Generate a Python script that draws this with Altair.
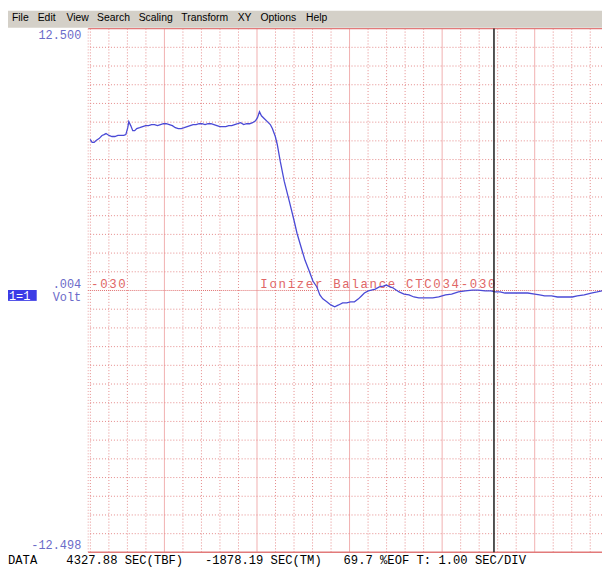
import altair as alt
import pandas as pd

# ---- data ----
time_s = [-0.802, -0.781, -0.759, -0.738, -0.706, -0.674, -0.652, -0.631, -0.599, -0.567,
          -0.535, -0.503, -0.471, -0.439, -0.417, -0.396, -0.385, -0.364, -0.342, -0.321,
          -0.299, -0.267, -0.235, -0.203, -0.171, -0.139, -0.107, -0.075, -0.043, -0.011,
          0.021, 0.053, 0.086, 0.118, 0.150, 0.182, 0.214, 0.246, 0.278, 0.310,
          0.342, 0.374, 0.406, 0.439, 0.471, 0.503, 0.535, 0.567, 0.599, 0.631,
          0.663, 0.695, 0.727, 0.759, 0.791, 0.824, 0.856, 0.888, 0.920, 0.952,
          0.984, 1.005, 1.027, 1.048, 1.080, 1.112, 1.144, 1.166, 1.198, 1.219,
          1.251, 1.294, 1.348, 1.401, 1.433, 1.487, 1.519, 1.561, 1.604, 1.647,
          1.679, 1.711, 1.754, 1.797, 1.840, 1.882, 1.925, 1.968, 2.011, 2.053,
          2.096, 2.128, 2.160, 2.203, 2.235, 2.278, 2.321, 2.364, 2.396, 2.439,
          2.471, 2.503, 2.535, 2.588, 2.642, 2.695, 2.749, 2.824, 2.898, 2.963,
          3.037, 3.102, 3.176, 3.251, 3.326, 3.390, 3.465, 3.529, 3.572, 3.626,
          3.679, 3.754, 3.840, 3.925, 4.000, 4.053, 4.107, 4.182, 4.246, 4.289,
          4.342, 4.406, 4.460, 4.535, 4.610, 4.674, 4.727]
volts = [7.21, 7.07, 7.07, 7.16, 7.25, 7.40, 7.44, 7.49, 7.40, 7.35,
         7.35, 7.40, 7.40, 7.40, 7.44, 7.77, 8.06, 7.87, 7.63, 7.63,
         7.73, 7.77, 7.82, 7.87, 7.87, 7.92, 7.92, 7.87, 7.92, 7.96,
         7.96, 7.92, 7.87, 7.77, 7.73, 7.73, 7.77, 7.82, 7.87, 7.92,
         7.92, 7.96, 7.96, 7.92, 7.96, 7.96, 7.92, 7.87, 7.82, 7.82,
         7.82, 7.87, 7.87, 7.92, 7.96, 8.01, 7.92, 7.96, 7.96, 8.01,
         8.10, 8.25, 8.53, 8.34, 8.20, 8.06, 7.92, 7.73, 7.35, 6.97,
         6.17, 5.22, 4.28, 3.33, 2.72, 1.91, 1.44, 0.97, 0.45, 0.17,
         -0.21, -0.40, -0.54, -0.69, -0.78, -0.69, -0.59, -0.59, -0.54, -0.54,
         -0.40, -0.26, -0.12, -0.02, 0.02, 0.07, 0.17, 0.21, 0.26, 0.17,
         0.12, 0.02, -0.07, -0.17, -0.21, -0.31, -0.35, -0.35, -0.35, -0.31,
         -0.21, -0.17, -0.07, -0.02, 0.02, 0.02, -0.02, -0.02, -0.07, -0.07,
         -0.12, -0.12, -0.12, -0.12, -0.17, -0.21, -0.26, -0.26, -0.31, -0.31,
         -0.31, -0.31, -0.26, -0.21, -0.12, -0.07, -0.02]
cursor_t = [3.56]

y_top = 12.5
y_bottom = -12.498
x_min, x_max = -0.8235, 4.727

top_label = "12.500"
bottom_label = "-12.498"
mid_label = ".004"
unit_label = "Volt"
channel_label = "1=1"
offset_label = "-030"
trace_label = "Ionizer Balance CTC034-030"
status_text = "DATA    4327.88 SEC(TBF)   -1878.19 SEC(TM)   69.7 %EOF T: 1.00 SEC/DIV"
menu_items = ["File", "Edit", "View", "Search", "Scaling", "Transform", "XY", "Options", "Help"]
menu_px = [-77, -51, -22, 9, 51, 94, 151, 174, 220]

W, H = 519, 529

xs = alt.Scale(domain=[x_min, x_max], nice=False, zero=False)
ys = alt.Scale(domain=[y_bottom, y_top], nice=False, zero=False)

# grid positions
minor_v = [round(-0.8 + 0.2 * i, 3) for i in range(28) if abs((-0.8 + 0.2 * i) - round(-0.8 + 0.2 * i)) > 1e-6]
major_v = [0, 1, 2, 3, 4]
step_h = 12.5 / 14
minor_h = [i * step_h for i in range(-13, 14) if i != 0]

grid_minor_v = alt.Chart(pd.DataFrame({"t": minor_v})).mark_rule(
    color="#e58a8a", strokeWidth=1, strokeDash=[1, 2]
).encode(x=alt.X("t:Q", scale=xs, axis=None))
grid_major_v = alt.Chart(pd.DataFrame({"t": major_v})).mark_rule(
    color="#f1b0b0", strokeWidth=1
).encode(x=alt.X("t:Q", scale=xs, axis=None))
grid_h = alt.Chart(pd.DataFrame({"v": minor_h})).mark_rule(
    color="#e58a8a", strokeWidth=1, strokeDash=[1, 2]
).encode(y=alt.Y("v:Q", scale=ys, axis=None))
mid_h = alt.Chart(pd.DataFrame({"v": [0.0]})).mark_rule(
    color="#e07070", strokeWidth=1, strokeDash=[1, 1]
).encode(y=alt.Y("v:Q", scale=ys, axis=None))
left_v = alt.Chart(pd.DataFrame({"t": [x_min]})).mark_rule(
    color="#e8a0a0", strokeWidth=1, strokeDash=[1, 2]
).encode(x=alt.X("t:Q", scale=xs, axis=None))
border_h = alt.Chart(pd.DataFrame({"v": [y_top, y_bottom]})).mark_rule(
    color="#e27a7a", strokeWidth=1.5
).encode(y=alt.Y("v:Q", scale=ys, axis=None))

# menu bar
menu_bg = alt.Chart(pd.DataFrame({"a": [0]})).mark_rect(color="#d4d0c8").encode(
    x=alt.value(-81), x2=alt.value(W), y=alt.value(-18), y2=alt.value(-1)
)
menu_text = alt.Chart(pd.DataFrame({"label": menu_items, "px": menu_px})).mark_text(
    align="left", baseline="middle", font="Liberation Sans", fontSize=10.5, color="#000000"
).encode(x=alt.X("px:Q", scale=None), y=alt.value(-11), text="label:N")

blue = "#6b6bc9"
mono = "Liberation Mono"
lbl_top = alt.Chart(pd.DataFrame({"a": [0]})).mark_text(
    align="right", baseline="middle", font=mono, fontSize=12, color=blue
).encode(x=alt.value(-7), y=alt.value(6), text=alt.value(top_label))
lbl_bot = alt.Chart(pd.DataFrame({"a": [0]})).mark_text(
    align="right", baseline="middle", font=mono, fontSize=12, color=blue
).encode(x=alt.value(-7), y=alt.value(522), text=alt.value(bottom_label))
lbl_mid = alt.Chart(pd.DataFrame({"a": [0]})).mark_text(
    align="right", baseline="middle", font=mono, fontSize=12, color=blue
).encode(x=alt.value(-7), y=alt.value(258), text=alt.value(mid_label))
lbl_unit = alt.Chart(pd.DataFrame({"a": [0]})).mark_text(
    align="right", baseline="middle", font=mono, fontSize=12, color=blue
).encode(x=alt.value(-7), y=alt.value(271), text=alt.value(unit_label))
chan_box = alt.Chart(pd.DataFrame({"a": [0]})).mark_rect(color="#3c3ce6").encode(
    x=alt.value(-81), x2=alt.value(-52), y=alt.value(264), y2=alt.value(275)
)
chan_text = alt.Chart(pd.DataFrame({"a": [0]})).mark_text(
    align="left", baseline="middle", font=mono, fontSize=12, color="#ffffff"
).encode(x=alt.value(-80), y=alt.value(270), text=alt.value(channel_label))

# letter-spaced red labels, one glyph each
pitch = 9.2
chars, cpx = [], []
for start, s in [(2, offset_label), (173, trace_label)]:
    for i, ch in enumerate(s):
        if ch != " ":
            chars.append(ch)
            cpx.append(start + i * pitch + pitch / 2)
red_text = alt.Chart(pd.DataFrame({"ch": chars, "px": cpx})).mark_text(
    align="center", baseline="middle", font=mono, fontSize=12.5, color="#e06666"
).encode(x=alt.X("px:Q", scale=None), y=alt.value(258), text="ch:N")

status = alt.Chart(pd.DataFrame({"a": [0]})).mark_text(
    align="left", baseline="middle", font=mono, fontSize=12.3, color="#000000"
).encode(x=alt.value(-81), y=alt.value(537), text=alt.value(status_text.replace(" ", "\u00a0")))

trace = alt.Chart(pd.DataFrame({"t": time_s, "v": volts})).mark_line(
    color="#4a4ad6", strokeWidth=1.3
).encode(
    x=alt.X("t:Q", scale=xs, axis=None),
    y=alt.Y("v:Q", scale=ys, axis=None),
    order="t:Q",
)
cursor = alt.Chart(pd.DataFrame({"t": cursor_t})).mark_rule(
    color="#1a1a1a", strokeWidth=1.5
).encode(x=alt.X("t:Q", scale=xs, axis=None))

chart = alt.layer(
    menu_bg, grid_minor_v, grid_major_v, grid_h, left_v, mid_h, border_h,
    menu_text, lbl_top, lbl_bot, lbl_mid, lbl_unit, chan_box, chan_text,
    red_text, status, trace, cursor,
).properties(
    width=W, height=H,
    padding={"left": 81, "top": 18, "right": 0, "bottom": 13},
    autosize=alt.AutoSizeParams(type="none"),
    background="#ffffff",
).configure_view(strokeWidth=0)

chart.save("out.html", embed_options={"renderer": "svg", "actions": False})
